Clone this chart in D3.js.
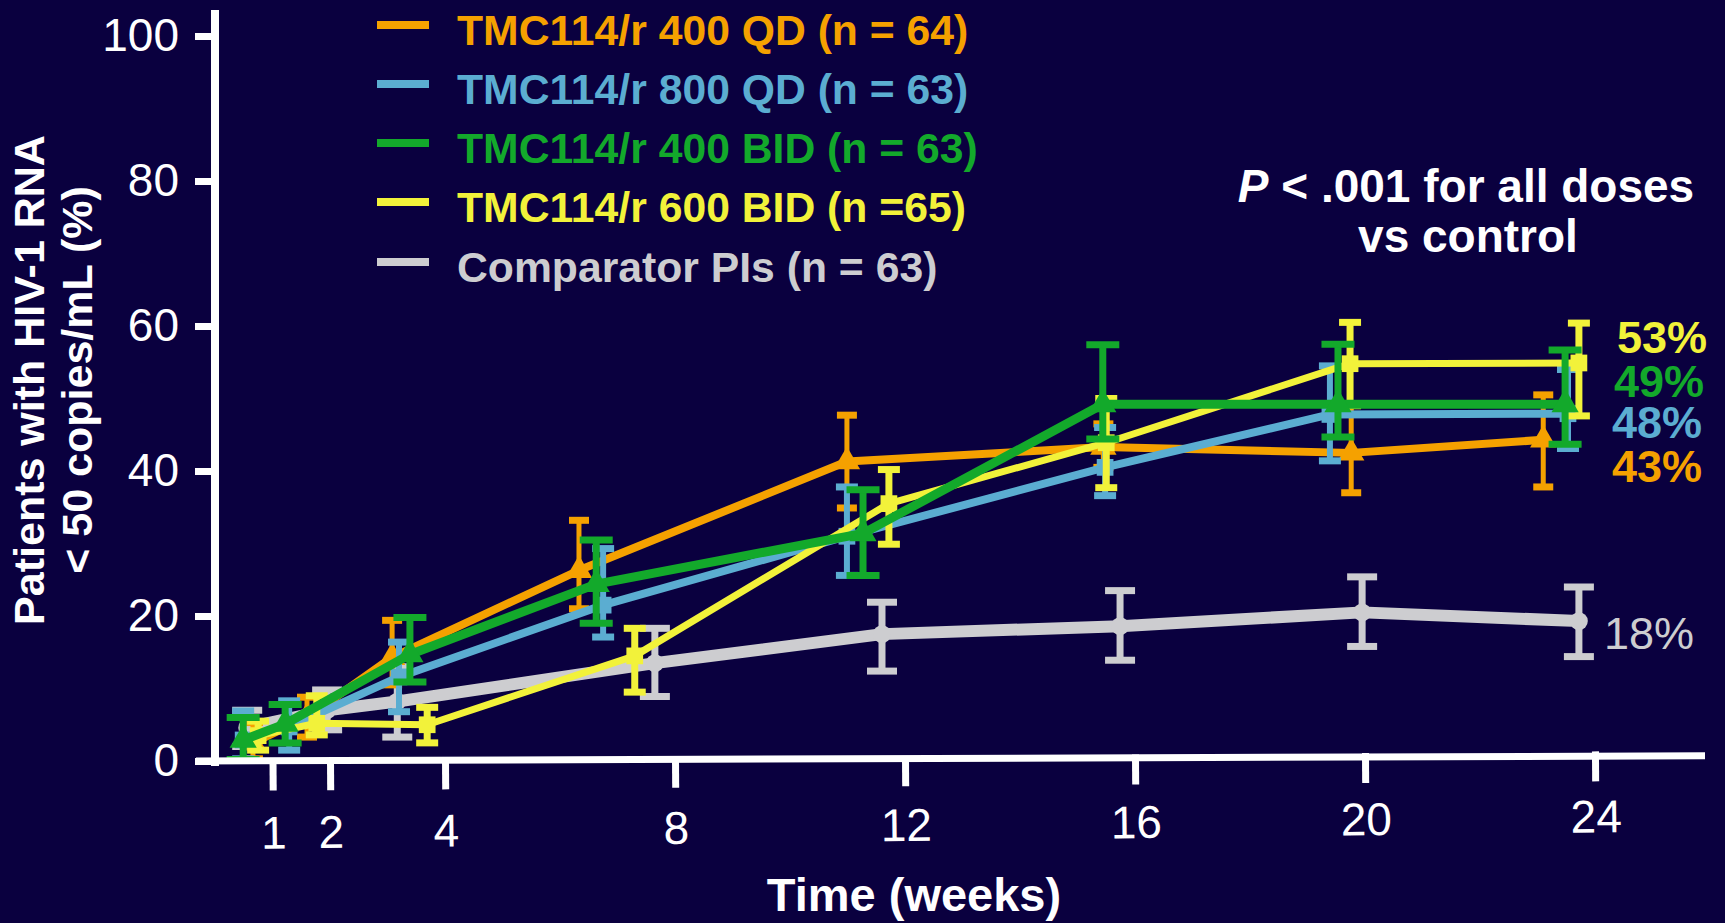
<!DOCTYPE html>
<html><head><meta charset="utf-8">
<script src="https://cdn.jsdelivr.net/npm/d3@7"></script>
<style>
html,body{margin:0;padding:0;background:#0A003F;}
svg{display:block;}
text{font-family:"Liberation Sans",Arial,Helvetica,sans-serif;}
</style></head><body>
<svg id="chart" width="1725" height="923"></svg>
<script>
// ---------- data ----------
const weekTicks = [1, 2, 4, 8, 12, 16, 20, 24];
const yTicks = [0, 20, 40, 60, 80, 100];
const legendLabels = ["TMC114/r 400 QD (n = 64)", "TMC114/r 800 QD (n = 63)", "TMC114/r 400 BID (n = 63)", "TMC114/r 600 BID (n =65)", "Comparator PIs (n = 63)"];
const seriesNames = ["400 QD", "800 QD", "400 BID", "600 BID", "Comparator"];
const seriesColors = ["#F5A100", "#5BADD1", "#13A92B", "#F2F23A", "#CDCDD0"];
const endLabels = ["43%", "48%", "49%", "53%", "18%"];

// plotted x (weeks, as placed in the picture), value, lower and upper bounds (%)
const qd400X  = [0.66, 1.6, 3.08, 6.33, 10.99, 15.45, 19.76, 23.1];
const qd400Y  = [2.5, 6.0, 14.3, 26.3, 41.3, 43.3, 42.5, 44.3];
const qd400Lo = [0.3, 3.3, 10.5, 21.0, 34.9, 40.5, 37.0, 37.8];
const qd400Hi = [5.3, 8.8, 19.4, 33.2, 47.7, 46.5, 49.1, 50.5];

const qd800X  = [0.49, 1.29, 3.2, 6.75, 10.99, 15.48, 19.39, 23.53];
const qd800Y  = [2.9, 4.7, 11.6, 21.5, 31.0, 40.5, 47.8, 47.9];
const qd800Lo = [0.3, 1.5, 6.8, 17.1, 25.6, 36.6, 41.4, 43.1];
const qd800Hi = [6.9, 8.3, 16.4, 29.3, 37.8, 46.0, 54.5, 54.0];

const bid400X  = [0.49, 1.22, 3.39, 6.63, 11.27, 15.44, 19.53, 23.48];
const bid400Y  = [2.9, 5.1, 14.7, 24.4, 31.4, 49.2, 49.2, 49.2];
const bid400Lo = [0.2, 2.5, 10.9, 19.0, 25.6, 44.4, 44.7, 43.7];
const bid400Hi = [6.0, 7.8, 19.8, 30.5, 37.4, 57.4, 57.5, 56.7];

const bid600X  = [0.75, 1.77, 3.69, 7.3, 11.72, 15.5, 19.74, 23.72];
const bid600Y  = [3.5, 5.2, 5.0, 14.5, 35.5, 43.9, 54.8, 54.9];
const bid600Lo = [1.5, 3.6, 2.5, 9.5, 29.9, 37.7, 49.0, 47.6];
const bid600Hi = [5.5, 9.0, 7.4, 18.3, 40.2, 50.0, 60.5, 60.4];

const compX  = [0.56, 1.95, 3.17, 7.65, 11.6, 15.74, 19.95, 23.72];
const compY  = [4.6, 7.0, 8.2, 13.5, 17.5, 18.6, 20.5, 19.3];
const compLo = [2.0, 4.3, 3.3, 8.9, 12.4, 13.9, 15.8, 14.4];
const compHi = [7.0, 9.8, 13.0, 18.3, 21.9, 23.5, 25.4, 24.0];

// ---------- build ----------
const W = 1725, H = 923;
const svg = d3.select("#chart");
svg.append("rect").attr("width", W).attr("height", H).attr("fill", "#0A003F");

const x = d3.scaleLinear().domain([0, 24]).range([215, 1595]);
const y = d3.scaleLinear().domain([0, 100]).range([761, 36]);

const zip = (xs, ys, lo, hi) => xs.map((v, i) => ({x: v, y: ys[i], lo: lo[i], hi: hi[i]}));
const series = [
  {key: 0, data: zip(qd400X, qd400Y, qd400Lo, qd400Hi), symbol: d3.symbolTriangle, size: 300, lw: 8, cap: 20, stem: 5},
  {key: 1, data: zip(qd800X, qd800Y, qd800Lo, qd800Hi), symbol: d3.symbolSquare, size: 280, lw: 8, cap: 22, stem: 6},
  {key: 2, data: zip(bid400X, bid400Y, bid400Lo, bid400Hi), symbol: d3.symbolTriangle, size: 320, lw: 9, cap: 33, stem: 7},
  {key: 3, data: zip(bid600X, bid600Y, bid600Lo, bid600Hi), symbol: d3.symbolSquare, size: 280, lw: 7, cap: 22, stem: 7},
  {key: 4, data: zip(compX, compY, compLo, compHi), symbol: d3.symbolCircle, size: 250, lw: 12, cap: 30, stem: 7}
];
const drawOrder = [4, 0, 1, 3, 2];

const line = d3.line().x(d => x(d.x)).y(d => y(d.y));

drawOrder.forEach(k => {
  const s = series[k];
  const col = seriesColors[k];
  const g = svg.append("g").attr("class", "series s" + k);
  g.append("path").datum(s.data).attr("d", line)
    .attr("fill", "none").attr("stroke", col).attr("stroke-width", s.lw)
    .attr("stroke-linejoin", "round");
  const eb = g.selectAll(".eb").data(s.data).enter().append("g");
  eb.append("line").attr("x1", d => x(d.x)).attr("x2", d => x(d.x))
    .attr("y1", d => y(d.lo)).attr("y2", d => y(d.hi))
    .attr("stroke", col).attr("stroke-width", s.stem);
  ["lo", "hi"].forEach(b => {
    eb.append("line").attr("x1", d => x(d.x) - s.cap / 2).attr("x2", d => x(d.x) + s.cap / 2)
      .attr("y1", d => y(d[b])).attr("y2", d => y(d[b]))
      .attr("stroke", col).attr("stroke-width", 7);
  });
  g.selectAll(".mk").data(s.data).enter().append("path")
    .attr("d", d3.symbol().type(s.symbol).size(s.size))
    .attr("transform", d => `translate(${x(d.x)},${y(d.y)})`)
    .attr("fill", col);
});

// ---------- axes ----------
const yAx = svg.append("g").attr("transform", "translate(213,0)")
  .call(d3.axisLeft(y).tickValues(yTicks).tickSize(18).tickPadding(16));
yAx.select(".domain").remove();
yAx.selectAll(".tick line").attr("stroke", "#fff").attr("stroke-width", 7);
yAx.selectAll(".tick text").attr("fill", "#fff").style("font-size", "46px")
  .style("font-family", '"Liberation Sans",Arial,sans-serif');
svg.append("line").attr("x1", 215).attr("x2", 215).attr("y1", 10).attr("y2", 766)
  .attr("stroke", "#fff").attr("stroke-width", 8);

svg.append("line").attr("x1", 196).attr("x2", 1705).attr("y1", 761).attr("y2", 761)
  .attr("stroke", "#fff").attr("stroke-width", 7)
  .attr("transform", "rotate(-0.2,215,761)");
const xT = svg.append("g").attr("transform", "translate(0,761) rotate(-0.4,215,0)")
  .call(d3.axisBottom(x).tickValues(weekTicks).tickSize(30).tickFormat(""));
xT.select(".domain").remove();
xT.selectAll(".tick line").attr("stroke", "#fff").attr("stroke-width", 7);
const xL = svg.append("g").attr("transform", "translate(0,764) rotate(-0.7,273,0)")
  .call(d3.axisBottom(x).tickValues(weekTicks).tickSize(0).tickPadding(52));
xL.select(".domain").remove();
xL.selectAll(".tick text").attr("fill", "#fff").style("font-size", "46px")
  .style("font-family", '"Liberation Sans",Arial,sans-serif');

svg.append("text").attr("x", 914).attr("y", 911).attr("text-anchor", "middle")
  .attr("fill", "#fff").style("font-size", "47px").style("font-weight", "bold")
  .text("Time (weeks)");
const yt = svg.append("g").attr("transform", "translate(44,380) rotate(-90)");
yt.append("text").attr("x", 0).attr("y", 0).attr("text-anchor", "middle")
  .attr("fill", "#fff").style("font-size", "43px").style("font-weight", "bold")
  .text("Patients with HIV-1 RNA");
yt.append("text").attr("x", 0).attr("y", 48).attr("text-anchor", "middle")
  .attr("fill", "#fff").style("font-size", "43px").style("font-weight", "bold")
  .text("< 50 copies/mL (%)");

const legBase = [45, 104, 163, 222, 282];
const leg = svg.append("g");
legendLabels.forEach((lab, i) => {
  leg.append("line").attr("x1", 377).attr("x2", 429)
    .attr("y1", legBase[i] - 20).attr("y2", legBase[i] - 20)
    .attr("stroke", seriesColors[i]).attr("stroke-width", 8);
  leg.append("text").attr("x", 457).attr("y", legBase[i])
    .attr("fill", seriesColors[i]).style("font-size", "42.7px").style("font-weight", "bold")
    .text(lab);
});

const pt = svg.append("text").attr("x", 1466).attr("y", 202).attr("text-anchor", "middle")
  .attr("fill", "#fff").style("font-size", "46px").style("font-weight", "bold");
pt.append("tspan").style("font-style", "italic").text("P");
pt.append("tspan").text(" < .001 for all doses");
svg.append("text").attr("x", 1468).attr("y", 252).attr("text-anchor", "middle")
  .attr("fill", "#fff").style("font-size", "46px").style("font-weight", "bold")
  .text("vs control");

const endPos = [[1612, 482], [1612, 438], [1614, 397], [1617, 353], [1604, 649]];
endLabels.forEach((t, i) => {
  svg.append("text").attr("x", endPos[i][0]).attr("y", endPos[i][1])
    .attr("fill", seriesColors[i]).style("font-size", "45px")
    .style("font-weight", i === 4 ? "normal" : "bold").text(t);
});
</script>
</body></html>
